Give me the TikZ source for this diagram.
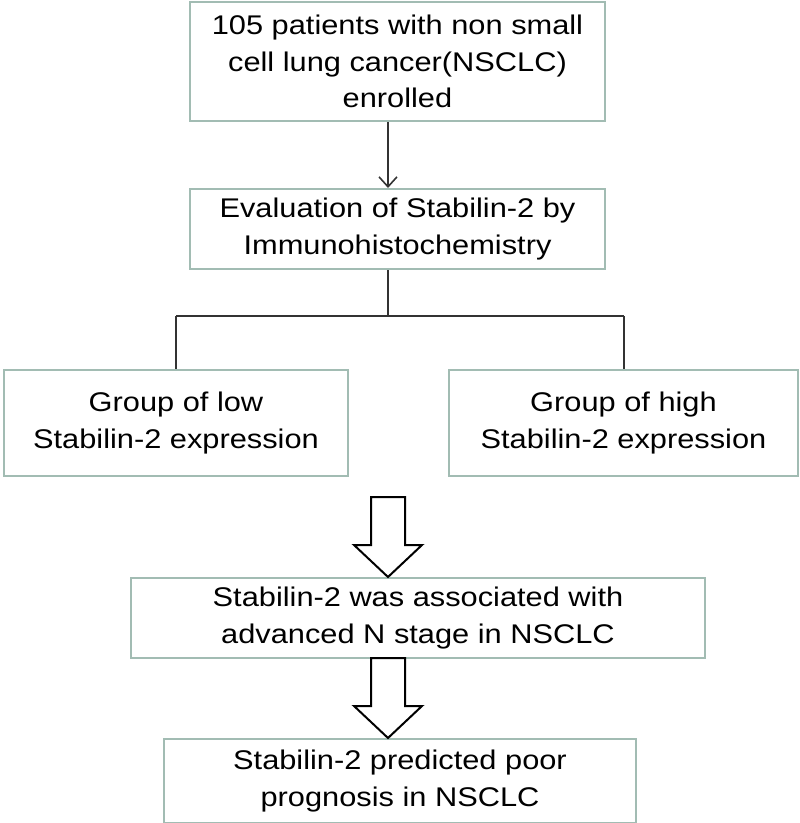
\documentclass[tikz,border=0pt]{standalone}
\usepackage{fontspec}
\setmainfont[FakeStretch=1.14]{Liberation Sans}
\usepackage{xcolor}
\usetikzlibrary{arrows.meta,positioning}
\definecolor{edge}{HTML}{A2BCB3}
\definecolor{ink}{HTML}{333333}

\begin{document}
\begin{tikzpicture}[
  x=1pt, y=-1pt,
  box/.style={draw=edge, line width=2pt, fill=white, align=center, inner sep=0pt,
    font=\fontsize{27}{36.5}\selectfont},
  link/.style={draw=ink, line width=2pt},
  arrow/.style={link, -{Straight Barb[length=10pt, width=18pt, line width=1.6pt]}},
  hollow/.style={draw=black, line width=2pt, fill=white, line join=miter}
]
\useasboundingbox (0,0) rectangle (800,823);
\node[box, minimum width=415pt, minimum height=119pt] (enrol) at (397.5,61.5)
  {105 patients with non small\\cell lung cancer(NSCLC)\\enrolled};
\node[box, minimum width=415pt, minimum height=80pt, below=66pt of enrol] (ihc)
  {Evaluation of Stabilin-2 by\\Immunohistochemistry};
\node[box, minimum width=344pt, minimum height=106pt] (low) at (176,423)
  {Group of low\\Stabilin-2 expression};
\node[box, minimum width=349pt, minimum height=106pt] (high) at (623.5,423)
  {Group of high\\Stabilin-2 expression};
\node[box, minimum width=574pt, minimum height=80pt] (assoc) at (418,618)
  {Stabilin-2 was associated with\\advanced N stage in NSCLC};
\node[box, minimum width=472pt, minimum height=84pt, below=79pt of assoc.south, anchor=north, xshift=-18pt] (prog)
  {Stabilin-2 predicted poor\\prognosis in NSCLC};
% connectors
\coordinate (split) at ([xshift=-9.5pt]ihc.south |- 0,316);
\draw[arrow] ([xshift=-9.5pt]enrol.south) -- ([xshift=-9.5pt]ihc.north);
\draw[link] ([xshift=-9.5pt]ihc.south) -- (split);
\draw[link] (low.north |- split) -- (high.north |- split);
\draw[link] (low.north |- split) -- (low.north);
\draw[link] (high.north |- split) -- (high.north);
% block arrows
\coordinate (tipA) at ([xshift=-30pt]assoc.north);
\coordinate (tipB) at ([xshift=-12pt]prog.north);
\foreach \t in {tipA,tipB}
  \draw[hollow] (\t) -- ++(-34,-32) -- ++(17,0) -- ++(0,-48) -- ++(34,0)
    -- ++(0,48) -- ++(17,0) -- cycle;
\end{tikzpicture}
\end{document}
